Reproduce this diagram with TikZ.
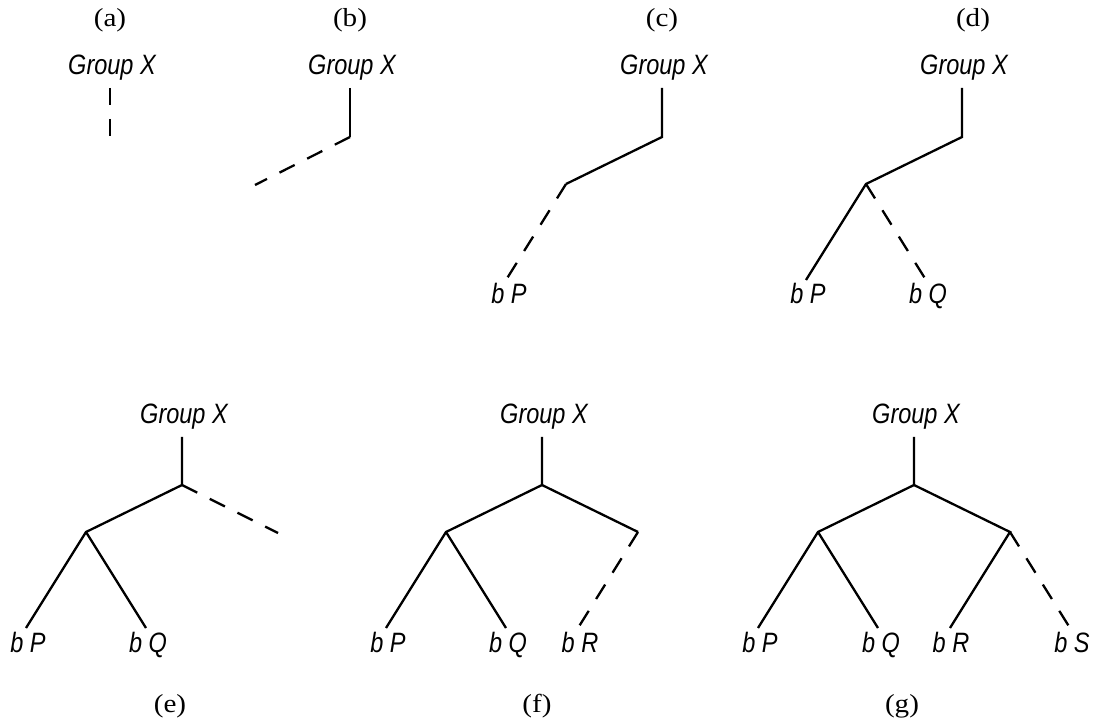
\documentclass[tikz,border=0pt]{standalone}
\usepackage{fontspec}
\newfontfamily\grpfont{Liberation Sans}[FakeStretch=0.84]
\newfontfamily\capfont{Liberation Serif}[FakeStretch=1.12]
\begin{document}
\begin{tikzpicture}[x=1pt,y=-1pt,
  grp/.style={anchor=base,inner sep=0pt,font=\grpfont\itshape\fontsize{28}{32}\selectfont},
  leaf/.style={anchor=base,inner sep=0pt,font=\grpfont\itshape\fontsize{28}{32}\selectfont},
  panelcap/.style={anchor=base,inner sep=0pt,font=\capfont\fontsize{26}{30}\selectfont},
  edge/.style={line width=2.3pt,line cap=butt,line join=miter},
  dedge/.style={edge,dash pattern=on 17pt off 14pt}]
\useasboundingbox (0,0) rectangle (1096,719);
% ---------- (a)
\node[panelcap] (ca) at (110,27) {(a)};
\node[grp] (ga) at (112,75) {Group X};
\coordinate (ta) at (110,88);
\coordinate (fa) at (110,136);
\draw[dedge] (ta) -- (fa);
% ---------- (b)
\node[panelcap] (cb) at (350,27) {(b)};
\node[grp] (gb) at (352,75) {Group X};
\coordinate (tb) at (350,88);
\coordinate (fb) at (350,137);
\coordinate (eb) at (255,185);
\draw[edge] (tb) -- (fb);
\draw[dedge] (fb) -- (eb);
% ---------- (c)
\node[panelcap] (cc) at (662,27) {(c)};
\node[grp] (gc) at (664,75) {Group X};
\coordinate (tc) at (662,88);
\coordinate (fc) at (662,137);
\coordinate (kc) at (566,184);
\coordinate (pc) at (506,280);
\node[leaf] (lpc) at (509,304) {b P};
\draw[edge] (tc) -- (fc) -- (kc);
\draw[dedge] (kc) -- (pc);
% ---------- (d)
\node[panelcap] (cd) at (973,27) {(d)};
\node[grp] (gd) at (964,75) {Group X};
\coordinate (td) at (962,88);
\coordinate (fd) at (962,137);
\coordinate (kd) at (866,184);
\coordinate (pd) at (806,280);
\coordinate (qd) at (926,280);
\node[leaf] (lpd) at (808,304) {b P};
\node[leaf] (lqd) at (928,304) {b Q};
\draw[edge] (td) -- (fd) -- (kd) -- (pd);
\draw[dedge] (kd) -- (qd);
% ---------- (e)
\node[panelcap] (ce) at (170,712) {(e)};
\node[grp] (ge) at (184,424) {Group X};
\coordinate (te) at (182,437);
\coordinate (fe) at (182,485);
\coordinate (ke) at (86,532);
\coordinate (re) at (278,533);
\coordinate (pe) at (26,628);
\coordinate (qe) at (146,628);
\node[leaf] (lpe) at (28,652) {b P};
\node[leaf] (lqe) at (148,652) {b Q};
\draw[edge] (te) -- (fe) -- (ke) -- (pe);
\draw[edge] (ke) -- (qe);
\draw[dedge] (fe) -- (re);
% ---------- (f)
\node[panelcap] (cf) at (537,712) {(f)};
\node[grp] (gf) at (544,424) {Group X};
\coordinate (tf) at (542,437);
\coordinate (ff) at (542,485);
\coordinate (kf) at (446,532);
\coordinate (mf) at (638,532);
\coordinate (pf) at (386,628);
\coordinate (qf) at (506,628);
\coordinate (rf) at (578,628);
\node[leaf] (lpf) at (388,652) {b P};
\node[leaf] (lqf) at (508,652) {b Q};
\node[leaf] (lrf) at (580,652) {b R};
\draw[edge] (tf) -- (ff) -- (kf) -- (pf);
\draw[edge] (kf) -- (qf);
\draw[edge] (ff) -- (mf);
\draw[dedge] (mf) -- (rf);
% ---------- (g)
\node[panelcap] (cg) at (902,712) {(g)};
\node[grp] (gg) at (916,424) {Group X};
\coordinate (tg) at (914,437);
\coordinate (fg) at (914,485);
\coordinate (kg) at (818,532);
\coordinate (mg) at (1010,532);
\coordinate (pg) at (758,628);
\coordinate (qg) at (878,628);
\coordinate (rg) at (950,628);
\coordinate (sg) at (1070,628);
\node[leaf] (lpg) at (760,652) {b P};
\node[leaf] (lqg) at (881,652) {b Q};
\node[leaf] (lrg) at (951,652) {b R};
\node[leaf] (lsg) at (1072,652) {b S};
\draw[edge] (tg) -- (fg) -- (kg) -- (pg);
\draw[edge] (kg) -- (qg);
\draw[edge] (fg) -- (mg) -- (rg);
\draw[dedge] (mg) -- (sg);
\end{tikzpicture}
\end{document}
